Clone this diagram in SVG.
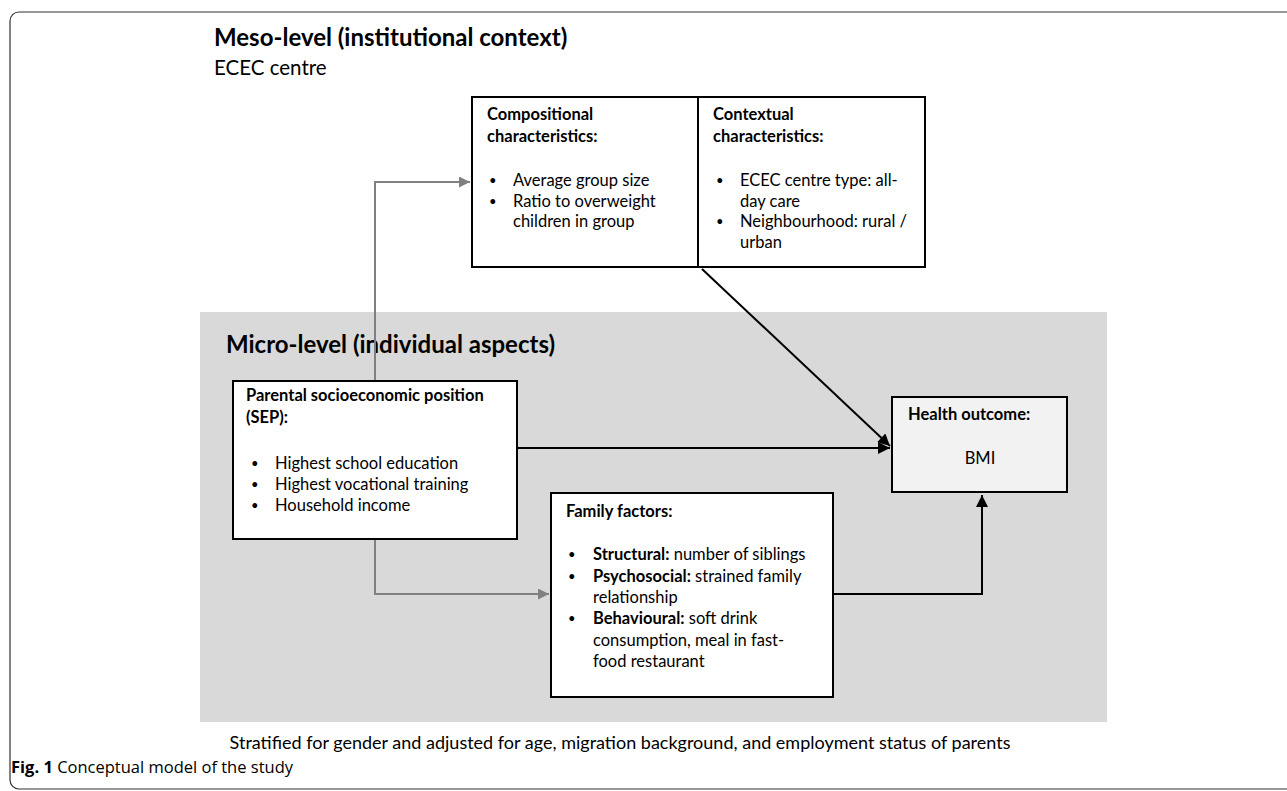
<svg xmlns="http://www.w3.org/2000/svg" width="1287" height="791" viewBox="0 0 1287 791">
<defs>
<style>
text{font-family:Lato,"Open Sans","Liberation Sans",sans-serif;fill:#000}
.t{font-size:16.5px}
.d{font-size:13px}
.b{font-weight:bold}
.title{font-size:24px;font-weight:bold}
.box{fill:#fff;stroke:#000;stroke-width:2}
.g{fill:none;stroke:#808080;stroke-width:2}
.k{fill:none;stroke:#000;stroke-width:2}
.cap{font-family:"Open Sans","Noto Sans",sans-serif;font-size:16.5px}
</style>
<marker id="ag" viewBox="0 0 10 10" refX="10" refY="5" markerWidth="6" markerHeight="5.5" orient="auto" markerUnits="strokeWidth"><path d="M0,0L10,5L0,10z" fill="#808080"/></marker>
<marker id="ak" viewBox="0 0 10 10" refX="10" refY="5" markerWidth="7" markerHeight="6" orient="auto" markerUnits="strokeWidth"><path d="M0,0L10,5L0,10z" fill="#000"/></marker>
</defs>
<rect x="0" y="0" width="1287" height="791" fill="#fff"/>
<rect x="10" y="12" width="1300" height="777" rx="9" fill="none" stroke="#333" stroke-width="1.2"/>
<rect id="micro-panel" x="200" y="312" width="907" height="410" fill="#d9d9d9"/>
<g id="meso-title">
<text class="title" x="214" y="46">Meso-level (institutional context)</text>
<text x="214" y="75" style="font-size:20.5px">ECEC centre</text>
</g>
<g id="micro-title"><text class="title" x="226" y="353">Micro-level (individual aspects)</text></g>
<g id="connectors">
<polyline class="g" points="375,381 375,182 470,182" marker-end="url(#ag)"/>
<polyline class="g" points="375,539 375,594 549,594" marker-end="url(#ag)"/>
<line class="k" x1="517" y1="448" x2="890" y2="448" marker-end="url(#ak)"/>
<line class="k" x1="702" y1="269" x2="890" y2="446" marker-end="url(#ak)"/>
<polyline class="k" points="833,594 982,594 982,495" marker-end="url(#ak)"/>
</g>
<g id="compositional">
<rect class="box" x="472" y="97" width="226" height="170"/>
<text class="t b" x="487" y="120">Compositional</text>
<text class="t b" x="487" y="142">characteristics:</text>
<text class="d" x="489" y="185">•</text><text class="t" x="513" y="186">Average group size</text>
<text class="d" x="489" y="206">•</text><text class="t" x="513" y="207">Ratio to overweight</text>
<text class="t" x="513" y="227">children in group</text>
</g>
<g id="contextual">
<rect class="box" x="698" y="97" width="227" height="170"/>
<text class="t b" x="713" y="120">Contextual</text>
<text class="t b" x="713" y="142">characteristics:</text>
<text class="d" x="716" y="185">•</text><text class="t" x="740" y="186">ECEC centre type: all-</text>
<text class="t" x="740" y="207">day care</text>
<text class="d" x="716" y="226">•</text><text class="t" x="740" y="227">Neighbourhood: rural /</text>
<text class="t" x="740" y="248">urban</text>
</g>
<g id="sep">
<rect class="box" x="233" y="381" width="284" height="158"/>
<text class="t b" x="246" y="401">Parental socioeconomic position</text>
<text class="t b" x="246" y="423">(SEP):</text>
<text class="d" x="251" y="468">•</text><text class="t" x="275" y="469">Highest school education</text>
<text class="d" x="251" y="489">•</text><text class="t" x="275" y="490">Highest vocational training</text>
<text class="d" x="251" y="510">•</text><text class="t" x="275" y="511">Household income</text>
</g>
<g id="health">
<rect x="892" y="397" width="175" height="95" fill="#f2f2f2" stroke="#000" stroke-width="2"/>
<text class="t b" x="908" y="420">Health outcome:</text>
<text class="t" x="980" y="464" text-anchor="middle">BMI</text>
</g>
<g id="family">
<rect class="box" x="551" y="493" width="282" height="204"/>
<text class="t b" x="566" y="517">Family factors:</text>
<text class="d" x="568" y="559">•</text><text class="t" x="593" y="560"><tspan class="b">Structural:</tspan> number of siblings</text>
<text class="d" x="568" y="581">•</text><text class="t" x="593" y="582"><tspan class="b">Psychosocial:</tspan> strained family</text>
<text class="t" x="593" y="603">relationship</text>
<text class="d" x="568" y="623">•</text><text class="t" x="593" y="624"><tspan class="b">Behavioural:</tspan> soft drink</text>
<text class="t" x="593" y="646">consumption, meal in fast-</text>
<text class="t" x="593" y="667">food restaurant</text>
</g>
<g id="note"><text x="620" y="749" text-anchor="middle" style="font-size:18px">Stratified for gender and adjusted for age, migration background, and employment status of parents</text></g>
<g id="caption"><text class="cap" x="11" y="773"><tspan font-weight="bold">Fig. 1</tspan> Conceptual model of the study</text></g>
</svg>
